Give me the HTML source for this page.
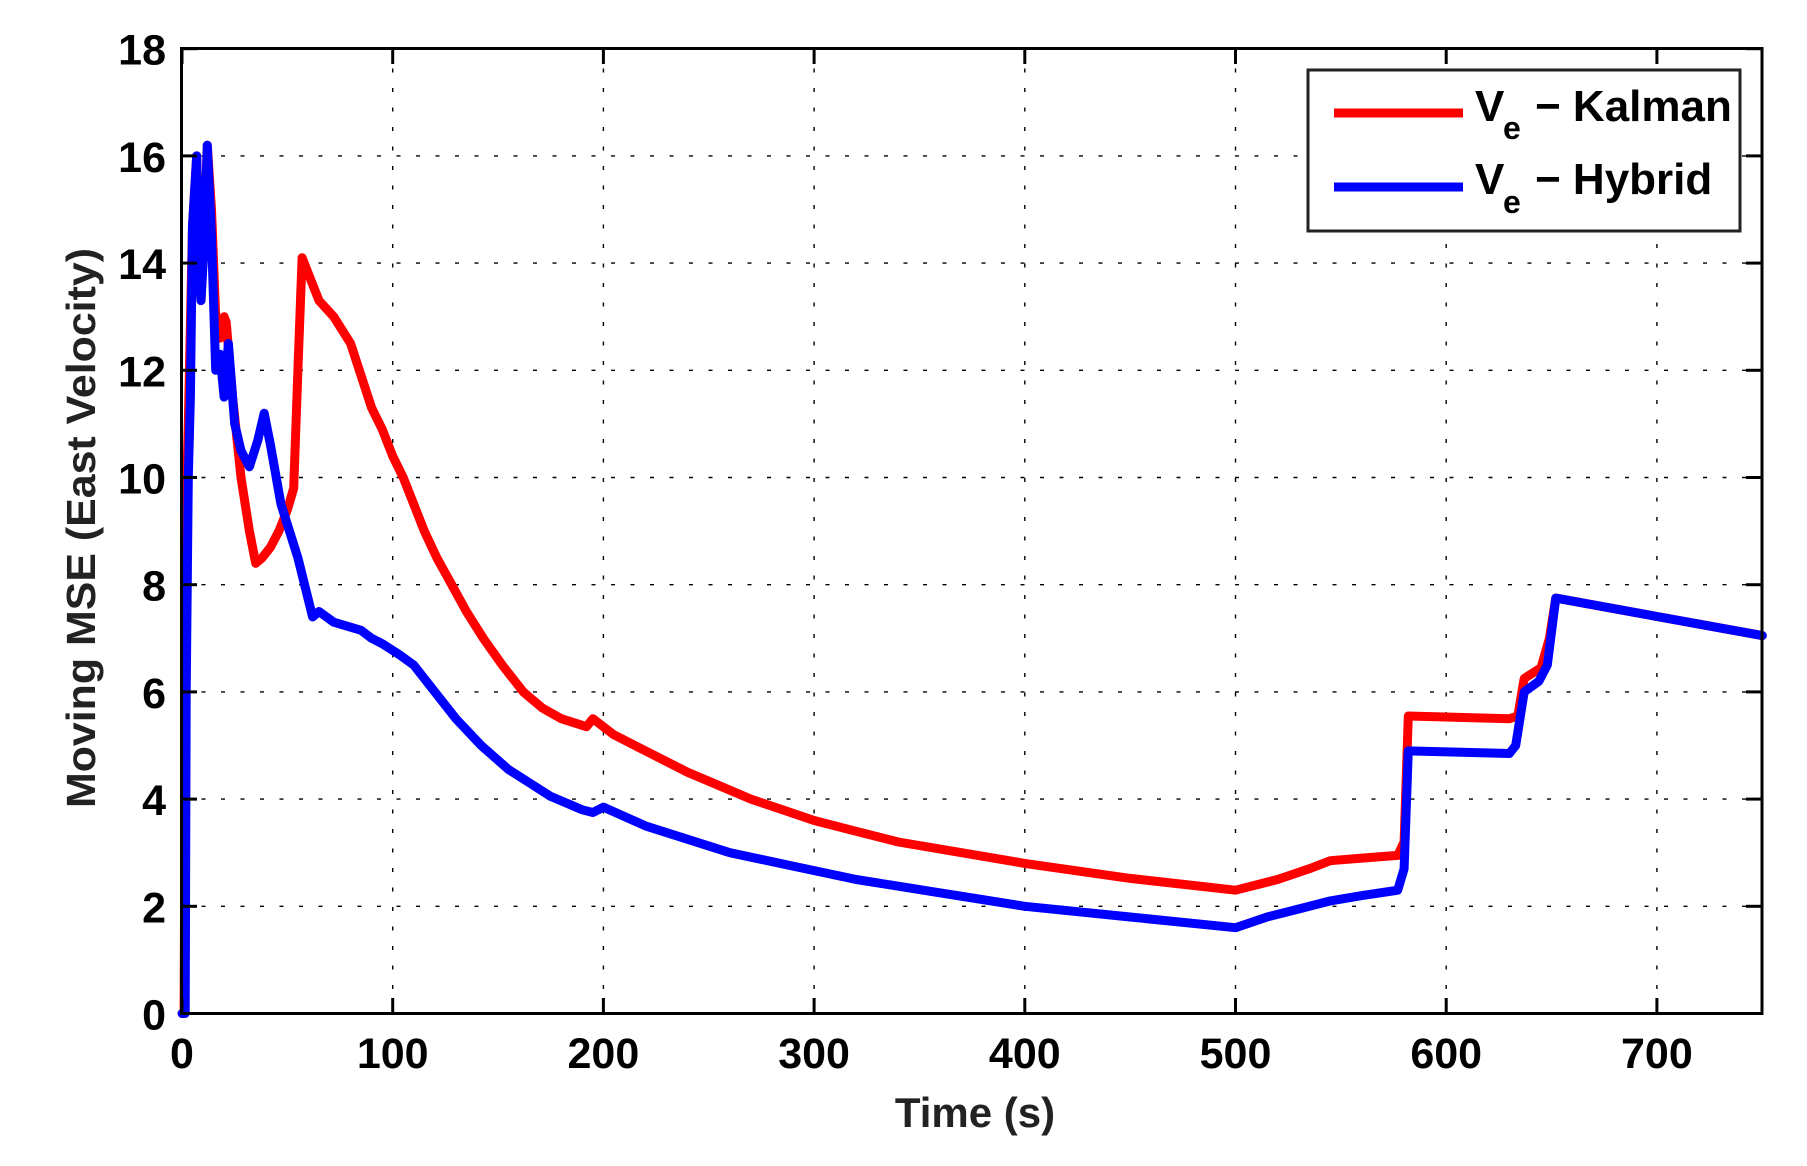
<!DOCTYPE html>
<html><head><meta charset="utf-8"><style>
html,body{margin:0;padding:0;background:#fff;}
svg text{font-family:"Liberation Sans",Arial,sans-serif;font-weight:bold;}
</style></head><body>
<svg id="s" width="1807" height="1161" viewBox="0 0 1807 1161" xmlns="http://www.w3.org/2000/svg">
<rect width="1807" height="1161" fill="#fff"/>
<g id="grid" stroke="#000" stroke-width="1.4" stroke-dasharray="4 15.5"></g>
<g id="series" fill="none" stroke-linejoin="round" stroke-linecap="round"></g>
<rect x="181.5" y="48.5" width="1580.5" height="965" fill="none" stroke="#000" stroke-width="3"/>
<g id="ticks" stroke="#000" stroke-width="3"></g>
<g id="labels" font-size="43" fill="#000"></g>
<text x="975" y="1127" font-size="42" text-anchor="middle" fill="#222">Time (s)</text>
<text transform="translate(95,528) rotate(-90)" font-size="41" text-anchor="middle" fill="#222" textLength="560" lengthAdjust="spacingAndGlyphs">Moving MSE (East Velocity)</text>
<rect x="1308" y="70" width="432" height="161" fill="#fff" stroke="#222" stroke-width="3"/>
<line x1="1334" y1="113" x2="1463" y2="113" stroke="#f00" stroke-width="9"/>
<line x1="1334" y1="187" x2="1463" y2="187" stroke="#00f" stroke-width="9"/>
<text x="1475" y="121" font-size="44" fill="#000">V</text>
<text x="1503" y="139" font-size="32" fill="#000">e</text>
<text x="1535" y="121" font-size="44" fill="#000">− Kalman</text>
<text x="1475" y="194" font-size="44" fill="#000">V</text>
<text x="1503" y="213" font-size="32" fill="#000">e</text>
<text x="1535" y="194" font-size="44" fill="#000">− Hybrid</text>
</svg>
<script>
var X0=182,XS=2.107,Y0=1013.5,YS=53.6;
function px(t){return X0+t*XS;} function py(v){return Y0-v*YS;}
var NS="http://www.w3.org/2000/svg";
function el(p,tag,a){var e=document.createElementNS(NS,tag);for(var k in a)e.setAttribute(k,a[k]);p.appendChild(e);return e;}
var g=document.getElementById('grid'),tk=document.getElementById('ticks'),lb=document.getElementById('labels');
for(var t=0;t<=700;t+=100){var x=px(t);
 if(t>0)el(g,'line',{x1:x,y1:49,x2:x,y2:1013});
 el(tk,'line',{x1:x,y1:1013,x2:x,y2:998});el(tk,'line',{x1:x,y1:49,x2:x,y2:64});
 var tx=el(lb,'text',{x:x,y:1068,'text-anchor':'middle'});tx.textContent=t;}
for(var v=0;v<=18;v+=2){var y=py(v);
 if(v>0&&v<18)el(g,'line',{x1:182,y1:y,x2:1761,y2:y});
 el(tk,'line',{x1:182,y1:y,x2:197,y2:y});el(tk,'line',{x1:1761,y1:y,x2:1746,y2:y});
 var tx=el(lb,'text',{x:166,y:y+16,'text-anchor':'end'});tx.textContent=v;}
var red=[[0,0],[1,0],[2,9.5],[3,11],[5,14.7],[7,16],[9,13.3],[11,15],[12,16.2],[14,15],[16,13],[18,12.6],[20,13],[21,12.9],[24,11.5],[28,10],[32,9],[35,8.4],[38,8.5],[42,8.7],[46,9],[50,9.4],[53,9.8],[55,12],[57,14.1],[60,13.8],[65,13.3],[72,13],[80,12.5],[85,11.9],[90,11.3],[95,10.9],[100,10.4],[105,10],[110,9.5],[115,9],[121,8.5],[128,8],[135,7.5],[143,7],[152,6.5],[162,6],[171,5.7],[180,5.5],[192,5.35],[195,5.5],[205,5.2],[220,4.9],[240,4.5],[255,4.25],[270,4],[285,3.8],[300,3.6],[320,3.4],[340,3.2],[370,3],[400,2.8],[450,2.52],[500,2.3],[520,2.5],[535,2.7],[545,2.85],[560,2.9],[577,2.95],[580,3.2],[582,5.55],[630,5.5],[634,5.55],[637,6.25],[645,6.45],[649,7],[652,7.75],[750,7.05]];
var blue=[[0,0],[1.5,0],[2,6],[3,10],[4,11.5],[5,14.7],[7,16],[8,14],[9,13.3],[10,14],[11,15],[12,16.2],[14,14.5],[16,12],[18,12.3],[20,11.5],[22,12.5],[25,11],[28,10.5],[32,10.2],[36,10.7],[39,11.2],[42,10.6],[47,9.5],[55,8.5],[62,7.4],[65,7.5],[72,7.3],[85,7.15],[90,7],[95,6.9],[103,6.7],[110,6.5],[115,6.25],[120,6],[125,5.75],[130,5.5],[142,5],[155,4.55],[165,4.3],[175,4.05],[190,3.8],[195,3.75],[200,3.85],[220,3.5],[240,3.25],[260,3],[290,2.75],[320,2.5],[360,2.25],[400,2],[450,1.8],[500,1.6],[515,1.8],[530,1.95],[545,2.1],[560,2.2],[577,2.3],[580,2.7],[582,4.9],[630,4.85],[633,5],[637,6],[644,6.2],[648,6.5],[652,7.75],[750,7.05]];
var sg=document.getElementById('series');
function draw(d,c){var s='';d.forEach(function(p,i){s+=(i?'L':'M')+px(p[0]).toFixed(1)+','+py(p[1]).toFixed(1);});el(sg,'path',{d:s,stroke:c,'stroke-width':9});}
draw(red,'#f00');draw(blue,'#00f');
</script>
</body></html>
